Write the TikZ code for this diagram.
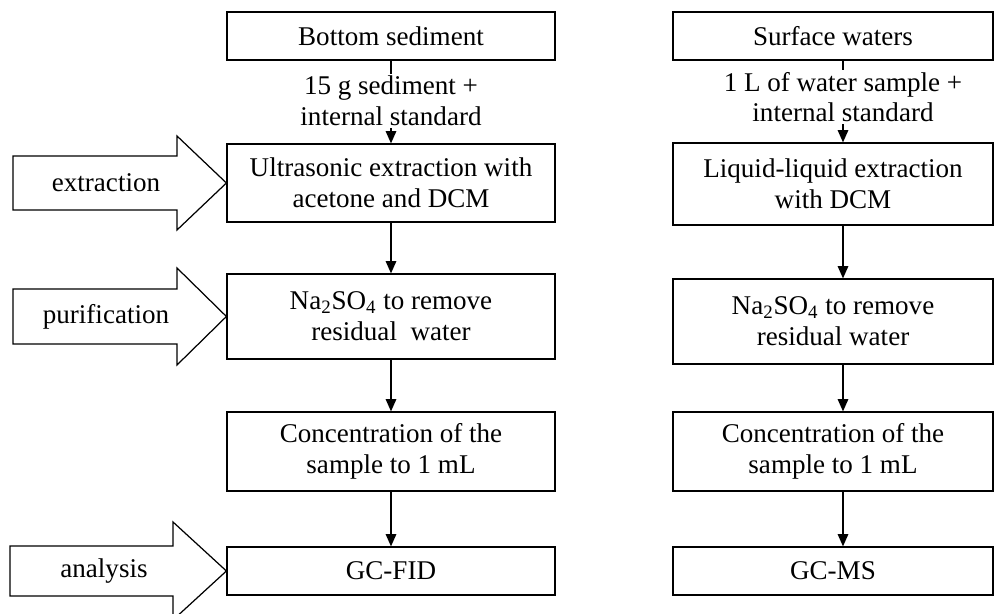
\documentclass[tikz,border=0pt]{standalone}
\usepackage{fontspec}
\setmainfont{Liberation Serif}
\usetikzlibrary{arrows.meta}

\tikzset{
  stage/.style={draw, line width=0.7pt, align=center, inner sep=2pt,
    font=\fontsize{15.4}{17.5}\selectfont},
  amount/.style={fill=white, align=center, inner sep=1pt,
    font=\fontsize{15.4}{17.5}\selectfont},
  flow/.style={-{Triangle[width=6pt,length=7pt]}, line width=0.8pt},
  bigarrow/.style={draw, line width=0.7pt, fill=white, line join=miter},
  phase/.style={font=\fontsize{15.4}{17.5}\selectfont}
}

\begin{document}
\begin{tikzpicture}[x=0.02cm, y=-0.02cm]
\useasboundingbox (0,0) rectangle (995,614);

% Sediment column
\node[stage, minimum width=6.56cm, minimum height=0.96cm] (sed1) at (391,36) {Bottom sediment};
\node[stage, minimum width=6.56cm, minimum height=1.56cm] (sed2) at (391,183) {Ultrasonic extraction with\\acetone and DCM};
\node[stage, minimum width=6.56cm, minimum height=1.7cm] (sed3) at (391,316.5) {Na\textsubscript{2}SO\textsubscript{4} to remove\\residual \ water};
\node[stage, minimum width=6.56cm, minimum height=1.58cm] (sed4) at (391,451.5) {Concentration of the\\sample to 1 mL};
\node[stage, minimum width=6.56cm, minimum height=0.96cm] (sed5) at (391,571) {GC-FID};

\draw[flow] (sed1) -- (sed2);
\node[amount] (sedin) at (391,101) {15 g sediment +\\internal standard};
\draw[flow] (sed2) -- (sed3);
\draw[flow] (sed3) -- (sed4);
\draw[flow] (sed4) -- (sed5);

% Water column
\node[stage, minimum width=6.4cm, minimum height=0.96cm] (wat1) at (833,36) {Surface waters};
\node[stage, minimum width=6.4cm, minimum height=1.64cm] (wat2) at (833,184) {Liquid-liquid extraction\\with DCM};
\node[stage, minimum width=6.4cm, minimum height=1.7cm] (wat3) at (833,321.5) {Na\textsubscript{2}SO\textsubscript{4} to remove\\residual water};
\node[stage, minimum width=6.4cm, minimum height=1.58cm] (wat4) at (833,451.5) {Concentration of the\\sample to 1 mL};
\node[stage, minimum width=6.4cm, minimum height=0.96cm] (wat5) at (833,571) {GC-MS};

\draw[flow] ([xshift=0.2cm]wat1.south) -- ([xshift=0.2cm]wat2.north);
\node[amount] (watin) at (843,97) {1 L of water sample +\\internal standard};
\draw[flow] ([xshift=0.2cm]wat2.south) -- ([xshift=0.2cm]wat3.north);
\draw[flow] ([xshift=0.2cm]wat3.south) -- ([xshift=0.2cm]wat4.north);
\draw[flow] ([xshift=0.2cm]wat4.south) -- ([xshift=0.2cm]wat5.north);

% Step arrows
\draw[bigarrow] (13,156) -- (177,156) -- (177,136) -- (sed2.west) -- (177,230) -- (177,210) -- (13,210) -- cycle;
\node[phase] (extr) at (106,183) {extraction};
\draw[bigarrow] (13,289) -- (177,289) -- (177,268) -- (sed3.west) -- (177,365) -- (177,344) -- (13,344) -- cycle;
\node[phase] (purif) at (106,316.5) {purification};
\draw[bigarrow] (10,546) -- (173,546) -- (173,522) -- (sed5.west) -- (173,620) -- (173,596) -- (10,596) -- cycle;
\node[phase] (anal) at (104,571) {analysis};

\end{tikzpicture}
\end{document}
